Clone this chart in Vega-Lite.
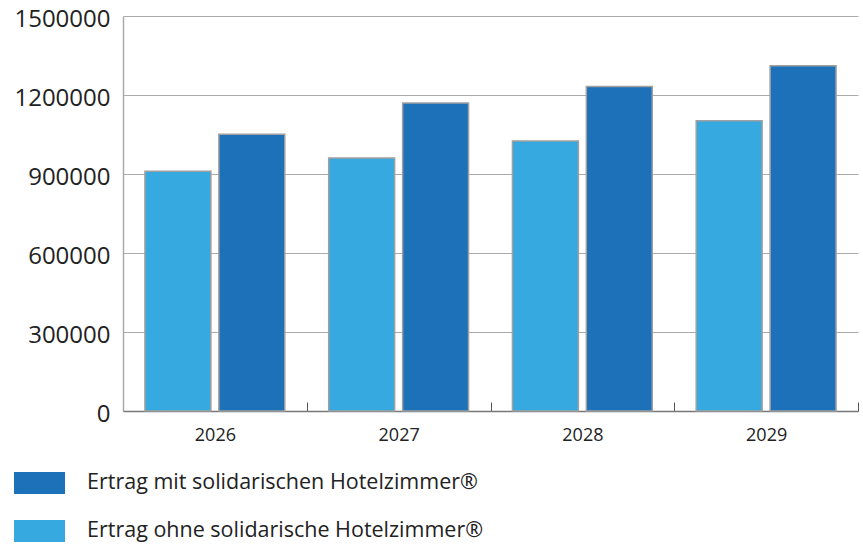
{
  "$schema": "https://vega.github.io/schema/vega-lite/v6.json",
  "width": 735,
  "height": 395,
  "autosize": {"type": "none"},
  "padding": {"left": 123, "top": 16, "right": 5, "bottom": 135},
  "background": "white",
  "data": {
    "values": [
      {"year": "2026", "series": "Ertrag ohne solidarische Hotelzimmer®", "value": 910000},
      {"year": "2026", "series": "Ertrag mit solidarischen Hotelzimmer®", "value": 1051000},
      {"year": "2027", "series": "Ertrag ohne solidarische Hotelzimmer®", "value": 961000},
      {"year": "2027", "series": "Ertrag mit solidarischen Hotelzimmer®", "value": 1170000},
      {"year": "2028", "series": "Ertrag ohne solidarische Hotelzimmer®", "value": 1025000},
      {"year": "2028", "series": "Ertrag mit solidarischen Hotelzimmer®", "value": 1232000},
      {"year": "2029", "series": "Ertrag ohne solidarische Hotelzimmer®", "value": 1102000},
      {"year": "2029", "series": "Ertrag mit solidarischen Hotelzimmer®", "value": 1311000}
    ]
  },
  "mark": {"type": "bar", "stroke": "#a0a0a0", "strokeWidth": 1.5},
  "encoding": {
    "x": {
      "field": "year", "type": "nominal",
      "scale": {"paddingInner": 0, "paddingOuter": 0},
      "axis": {
        "title": null, "labelAngle": 0, "labelFont": "Open Sans", "labelFontSize": 18,
        "labelColor": "#222", "labelPadding": 24, "tickBand": "extent", "tickSize": -9,
        "tickColor": "#555", "tickWidth": 1, "domainColor": "#777", "domainWidth": 1.5, "grid": false
      }
    },
    "xOffset": {
      "field": "series", "type": "nominal",
      "sort": ["Ertrag ohne solidarische Hotelzimmer®", "Ertrag mit solidarischen Hotelzimmer®"],
      "scale": {"paddingInner": 0.108, "paddingOuter": 0.297}
    },
    "y": {
      "field": "value", "type": "quantitative",
      "scale": {"domain": [0, 1500000], "nice": false},
      "axis": {
        "title": null, "values": [0, 300000, 600000, 900000, 1200000, 1500000],
        "format": "d", "labelFont": "Open Sans", "labelFontSize": 24, "labelColor": "#222",
        "ticks": false, "labelPadding": 13, "labelOffset": 3, "domainColor": "#aaa", "domainWidth": 1.5,
        "gridColor": "#aaa", "gridWidth": 1
      }
    },
    "color": {
      "field": "series", "type": "nominal",
      "scale": {
        "domain": ["Ertrag mit solidarischen Hotelzimmer®", "Ertrag ohne solidarische Hotelzimmer®"],
        "range": ["#1d71b8", "#36a9e1"]
      },
      "legend": {
        "title": null, "orient": "none", "legendX": -107.5, "legendY": 443,
        "direction": "vertical",
        "symbolType": "M-1.0625,-0.458H1.0625V0.458H-1.0625Z",
        "symbolSize": 2304, "symbolStrokeWidth": 0, "symbolOpacity": 1,
        "labelFont": "Open Sans", "labelFontSize": 21.5, "labelColor": "#222",
        "labelOffset": 23.5, "rowPadding": 13, "padding": 0, "labelLimit": 600
      }
    }
  },
  "config": {"view": {"stroke": null}}
}
